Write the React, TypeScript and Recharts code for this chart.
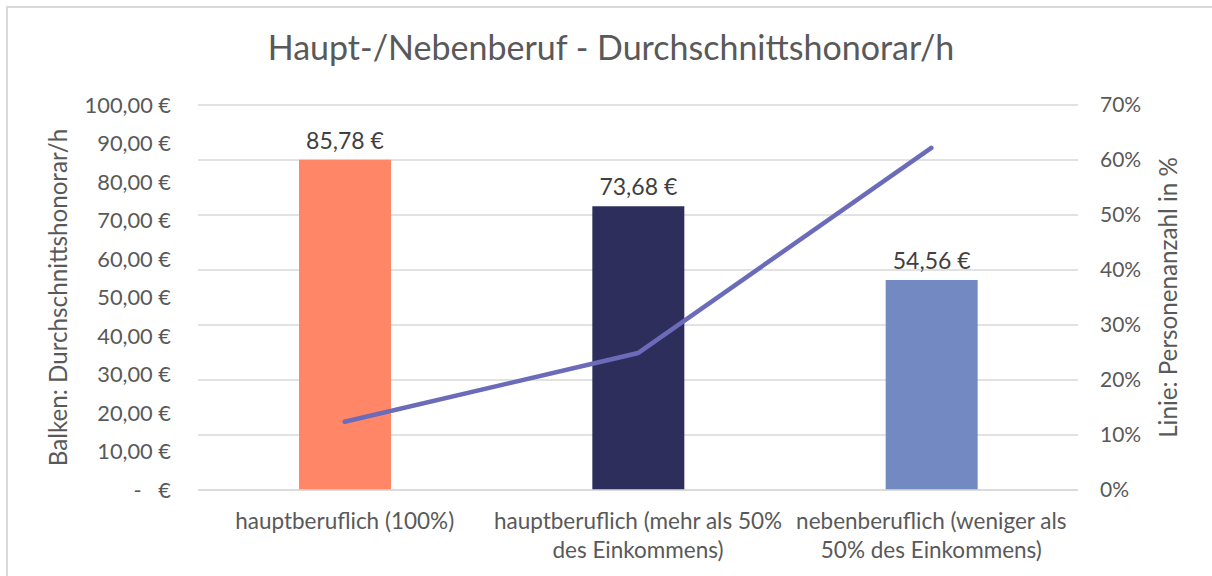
import React from "react";
import {
  ComposedChart,
  Bar,
  Line,
  XAxis,
  YAxis,
  CartesianGrid,
  Cell,
  LabelList,
} from "recharts";

const categories = [
  "hauptberuflich (100%)",
  "hauptberuflich (mehr als 50% des Einkommens)",
  "nebenberuflich (weniger als 50% des Einkommens)",
];
const honorar = [85.78, 73.68, 54.56];
const personenAnteil = [0.124, 0.249, 0.622];
const barColors = ["#FF8767", "#2E2E5C", "#7389C1"];
const euroTicks = [0, 10, 20, 30, 40, 50, 60, 70, 80, 90, 100];
const percentTicks = [0, 0.1, 0.2, 0.3, 0.4, 0.5, 0.6, 0.7];

const FONT = "Lato, 'Open Sans', sans-serif";
const GREY = "#595959";

const data = categories.map((name, i) => ({
  name,
  honorar: honorar[i],
  anteil: personenAnteil[i],
}));

const formatEuro = (v: number) =>
  v === 0 ? "-\u00a0\u00a0\u00a0€" : v.toFixed(2).replace(".", ",") + " €";
const formatPercent = (v: number) => Math.round(v * 100) + "%";

function wrap(text: string, max: number) {
  const lines: string[] = [];
  let cur = "";
  text.split(" ").forEach((w) => {
    if (cur && (cur + " " + w).length > max) {
      lines.push(cur);
      cur = w;
    } else {
      cur = cur ? cur + " " + w : w;
    }
  });
  if (cur) lines.push(cur);
  return lines;
}

function CategoryTick(props: any) {
  const { x, y, payload } = props;
  const lines = wrap(payload.value, 28);
  return (
    <text x={x} y={y + 10} textAnchor="middle" fill={GREY} fontSize={22.5} fontFamily={FONT}>
      {lines.map((l, i) => (
        <tspan key={i} x={x} dy={i === 0 ? 21 : 29}>
          {l}
        </tspan>
      ))}
    </text>
  );
}

function AxisTitle({ viewBox, value, dx }: any) {
  const cx = viewBox.x + viewBox.width / 2 + dx;
  const cy = viewBox.y + viewBox.height / 2;
  return (
    <text
      x={cx}
      y={cy}
      transform={`rotate(-90 ${cx} ${cy})`}
      textAnchor="middle"
      dominantBaseline="central"
      fill={GREY}
      fontSize={24.2}
      fontFamily={FONT}
    >
      {value}
    </text>
  );
}

export default function App() {
  return (
    <div
      style={{
        position: "absolute",
        left: 0,
        top: 0,
        width: 1212,
        height: 576,
        background: "#fff",
        overflow: "hidden",
      }}
    >
      <div
        style={{
          position: "absolute",
          left: 6,
          top: 6,
          right: -10,
          bottom: -10,
          borderLeft: "2px solid #D9D9D9",
          borderTop: "2px solid #D9D9D9",
        }}
      />
      <div
        style={{
          position: "absolute",
          left: 0,
          top: 26,
          width: 1222,
          textAlign: "center",
          fontFamily: FONT,
          fontSize: 34,
          color: GREY,
        }}
      >
        Haupt-/Nebenberuf - Durchschnittshonorar/h
      </div>
      <ComposedChart
        width={1212}
        height={576}
        data={data}
        margin={{ top: 105, right: 0, bottom: 0, left: 0 }}
        style={{ position: "absolute", left: 0, top: 0 }}
      >
        <CartesianGrid
          yAxisId="right"
          vertical={false}
          stroke="#D9D9D9"
          strokeWidth={1.5}
        />
        <XAxis
          dataKey="name"
          height={86}
          axisLine={{ stroke: "#D9D9D9", strokeWidth: 1.5 }}
          tickLine={false}
          tick={<CategoryTick />}
          interval={0}
        />
        <YAxis
          yAxisId="left"
          width={198}
          domain={[0, 100]}
          ticks={euroTicks}
          tickFormatter={formatEuro}
          axisLine={false}
          tickLine={false}
          tickMargin={21}
          tick={{ fill: GREY, fontSize: 21.8, fontFamily: FONT }}
          label={{
            value: "Balken: Durchschnittshonorar/h",
            content: (p: any) => (
              <AxisTitle viewBox={p.viewBox} value="Balken: Durchschnittshonorar/h" dx={-42} />
            ),
          }}
        />
        <YAxis
          yAxisId="right"
          orientation="right"
          width={134}
          domain={[0, 0.7]}
          ticks={percentTicks}
          tickFormatter={formatPercent}
          axisLine={false}
          tickLine={false}
          tickMargin={16}
          tick={{ fill: GREY, fontSize: 21, fontFamily: FONT, textAnchor: "start" }}
          label={{
            value: "Linie: Personenanzahl in %",
            content: (p: any) => (
              <AxisTitle viewBox={p.viewBox} value="Linie: Personenanzahl in %" dx={22} />
            ),
          }}
        />
        <Bar yAxisId="left" dataKey="honorar" barSize={92} isAnimationActive={false}>
          {data.map((_, i) => (
            <Cell key={i} fill={barColors[i]} />
          ))}
          <LabelList
            dataKey="honorar"
            position="top"
            offset={11}
            formatter={(v: any) => formatEuro(Number(v))}
            fill="#404040"
            fontSize={23}
            fontFamily={FONT}
          />
        </Bar>
        <Line
          yAxisId="right"
          dataKey="anteil"
          stroke="#6B6BB9"
          strokeWidth={4.5}
          strokeLinecap="round"
          dot={false}
          activeDot={false}
          isAnimationActive={false}
        />
      </ComposedChart>
    </div>
  );
}
